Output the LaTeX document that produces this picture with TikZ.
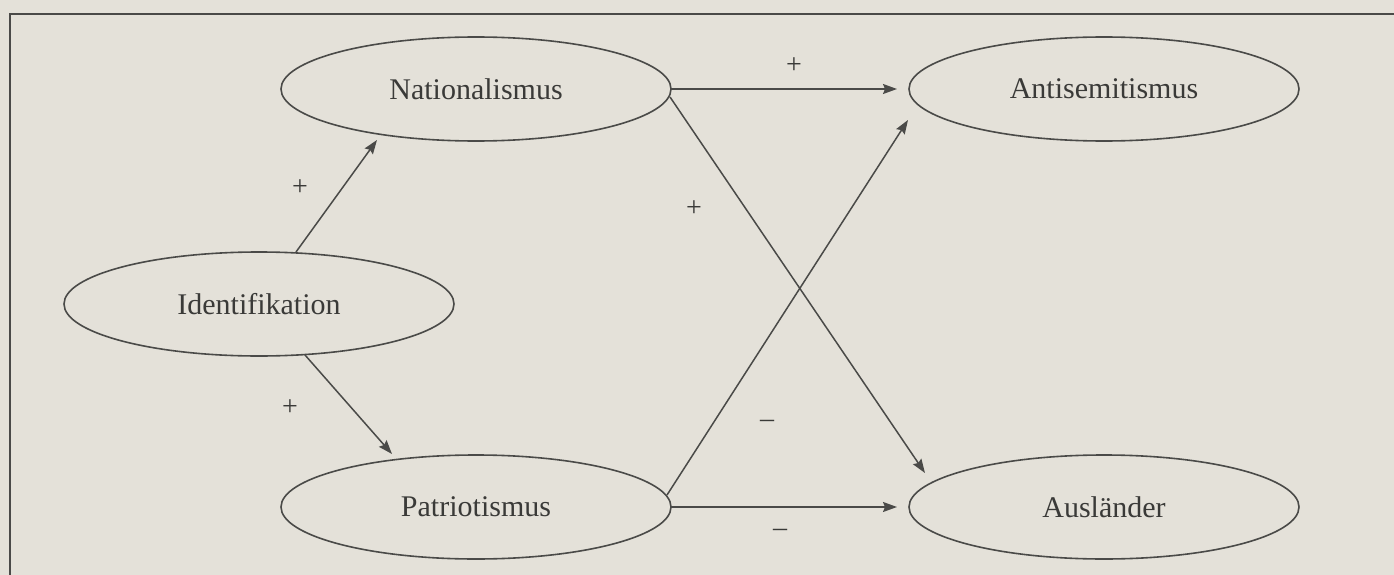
\documentclass[tikz,border=0pt]{standalone}
\usepackage{fontspec}
\setmainfont{Liberation Serif}
\usetikzlibrary{shapes.geometric,arrows.meta,calc}
\definecolor{bgc}{HTML}{E4E1D9}
\definecolor{ink}{HTML}{4A4A48}
\definecolor{txt}{HTML}{3A3A38}
\begin{document}
\begin{tikzpicture}[x=1pt,y=-1pt,
  concept/.style={ellipse,draw=ink,line width=1.6pt,minimum width=390pt,minimum height=104pt,inner sep=0pt,outer sep=0pt,text=txt,font=\fontsize{30}{36}\selectfont},
  conn/.style={draw=ink,line width=1.5pt,-{Stealth[length=14pt,width=10pt,inset=2pt]}},
  sign/.style={text=txt,font=\fontsize{28}{32}\selectfont,inner sep=0pt}]
\fill[bgc] (0,0) rectangle (1394,575);
\useasboundingbox (0,0) rectangle (1394,575);
\draw[ink,line width=1.5pt] (1400,14) -- (10,14) -- (10,580);

\node[concept] (nat)   at (476,89)  {Nationalismus};
\node[concept] (anti)  at (1104,89) {Antisemitismus};
\node[concept] (ident) at (259,304) {Identifikation};
\node[concept] (pat)   at (476,507) {Patriotismus};
\node[concept] (aus)   at (1104,507) {Ausländer};

\draw[conn] ($(ident.center)+(37,-52)$) -- ($(nat.center)+(-99,51)$);
\draw[conn] ($(ident.center)+(46,51)$) -- ($(pat.center)+(-84,-53)$);
\draw[conn,shorten >=12pt] (nat.east) -- (anti.west);
\draw[conn] ($(nat.center)+(194,8)$) -- ($(aus.center)+(-179,-34)$);
\draw[conn] ($(pat.center)+(191,-12)$) -- ($(anti.center)+(-196,31)$);
\draw[conn,shorten >=12pt] (pat.east) -- (aus.west);

\node[sign] (s1) at (300,188) {+};
\node[sign] (s2) at (290,408) {+};
\node[sign] (s3) at (794,66)  {+};
\node[sign] (s4) at (694,209) {+};
\node[sign] (s5) at (767,424) {–};
\node[sign] (s6) at (780,533) {–};
\end{tikzpicture}
\end{document}
